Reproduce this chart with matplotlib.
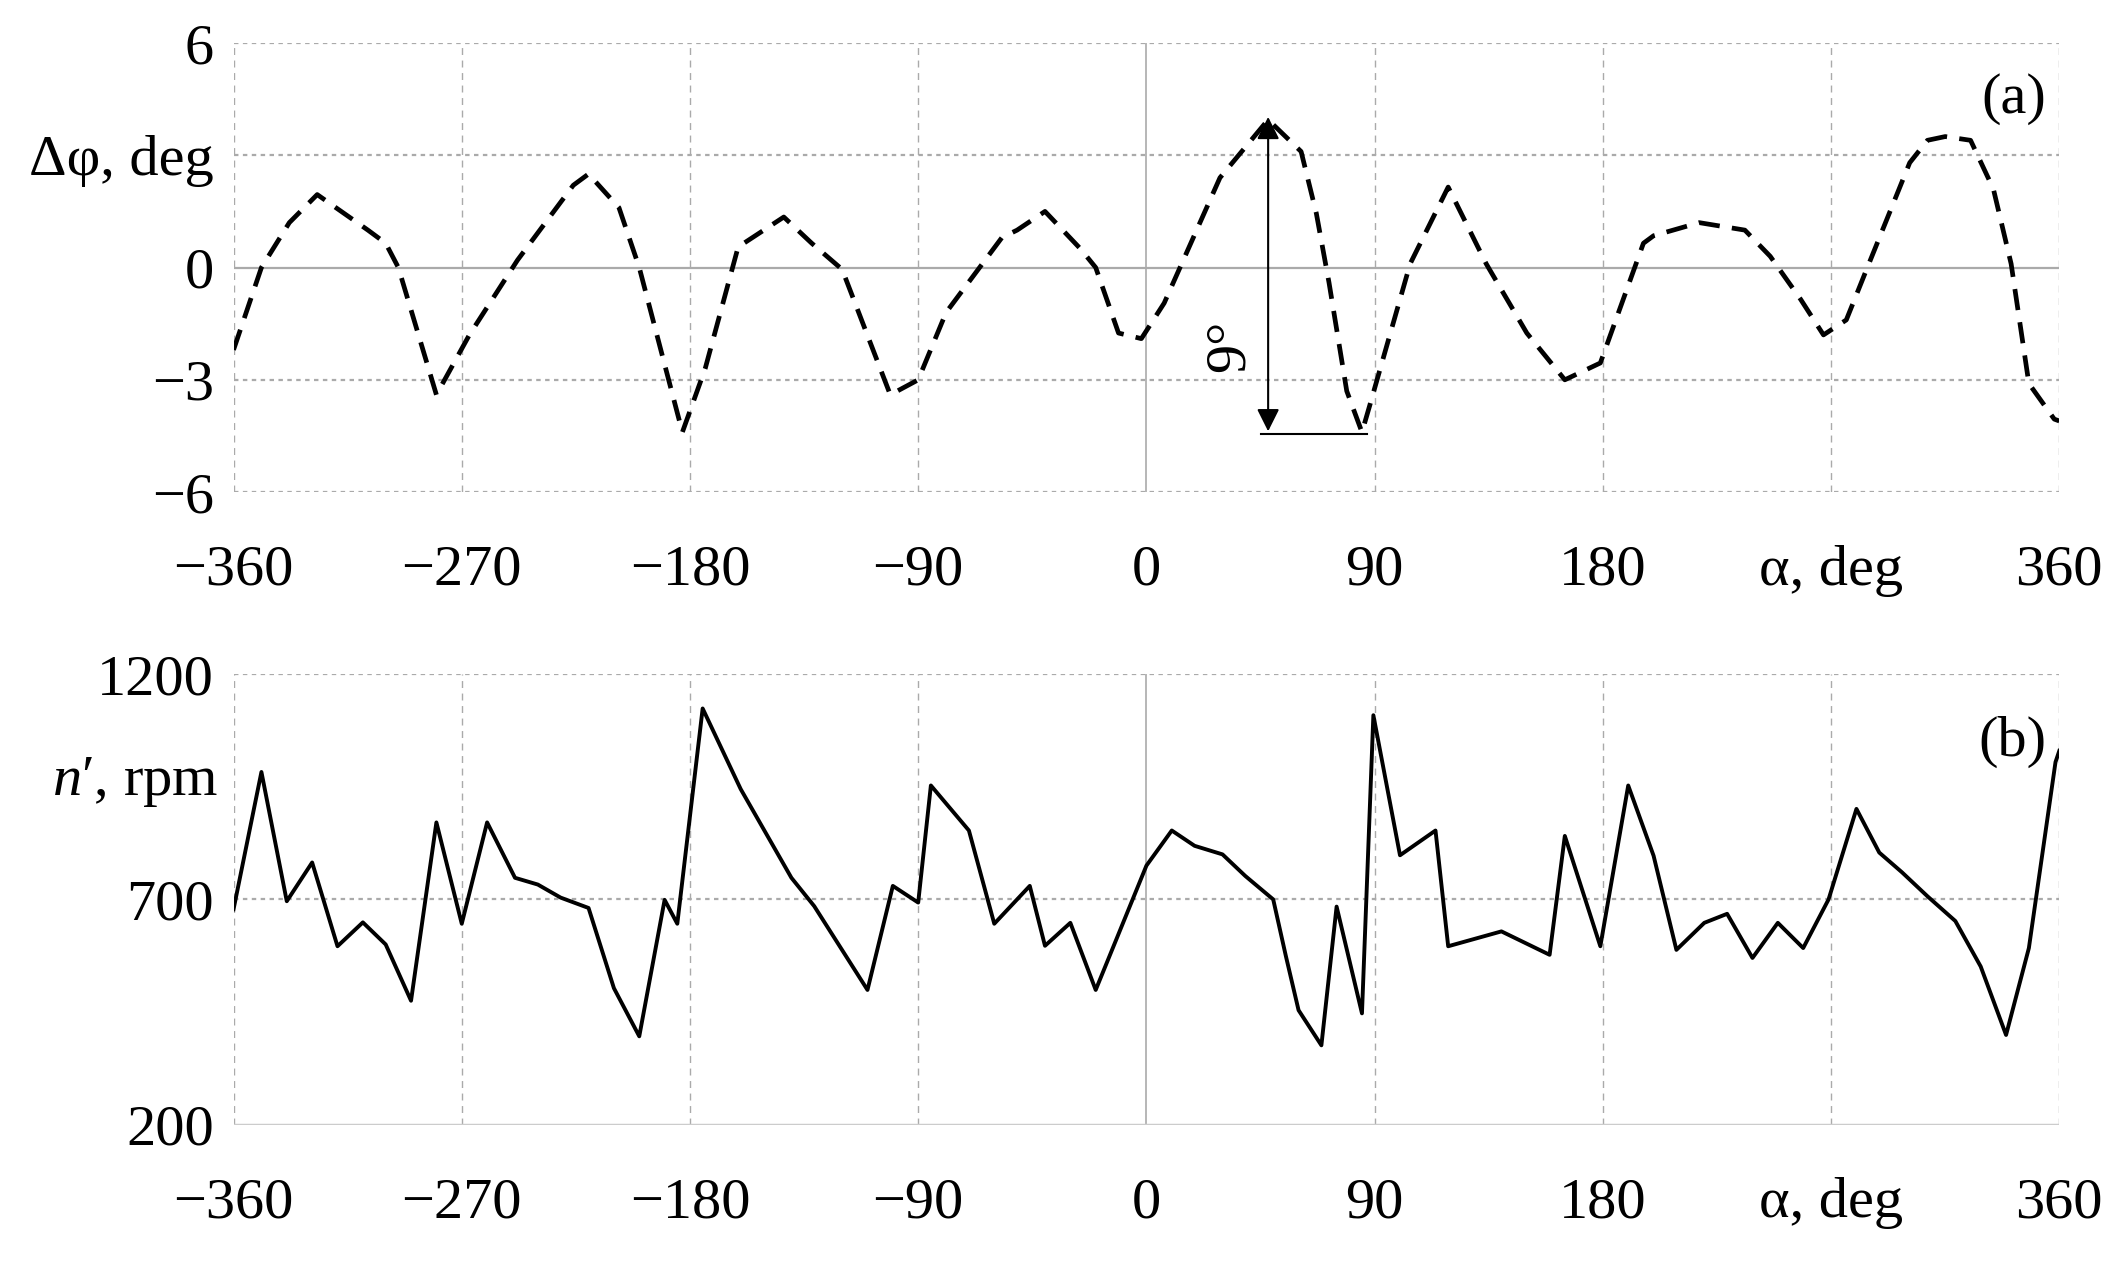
import numpy as np
import matplotlib
matplotlib.use("Agg")
import matplotlib.pyplot as plt

plt.rcParams["font.family"] = ["Liberation Serif", "DejaVu Serif"]
plt.rcParams["mathtext.fontset"] = "custom"
plt.rcParams["mathtext.it"] = "Liberation Serif:italic"
plt.rcParams["mathtext.rm"] = "Liberation Serif"

# ── Data ────────────────────────────────────────────────────────────────────
alpha_a = [-360, -349, -338, -327, -307, -300, -295, -280, -267, -248, -226, -220,
           -208, -200, -183, -174, -161, -143, -132, -120, -101, -90, -79, -57,
           -51, -40, -26, -20, -11, -2, 7, 29, 48, 61, 67, 72, 79, 85, 88, 104,
           119, 134, 150, 165, 179, 196, 200, 218, 236, 246, 258, 267, 276, 284,
           301, 308, 315, 325, 334, 341, 348, 358, 360]
dphi = [-2.2, 0.0, 1.2, 1.95, 1.0, 0.65, 0.0, -3.4, -1.8, 0.2, 2.2, 2.5,
        1.6, 0.0, -4.4, -2.7, 0.55, 1.35, 0.65, -0.05, -3.4, -3.0, -1.2, 0.8,
        1.0, 1.5, 0.5, 0.0, -1.75, -1.9, -0.95, 2.4, 3.95, 3.1, 1.45, -0.4, -3.3, -4.4, -3.7, 0.1,
        2.15, 0.1, -1.75, -3.0, -2.55, 0.65, 0.85, 1.2, 1.0, 0.3, -0.85, -1.8, -1.4, -0.05,
        2.8, 3.4, 3.5, 3.4, 2.1, 0.1, -3.1, -4.05, -4.1]

alpha_b = [-360, -349, -339, -329, -319, -309, -300, -290, -280, -270, -260, -249,
           -240, -231, -220, -210, -200, -190, -185, -175, -160, -140, -131, -110,
           -100, -90, -85, -70, -60, -46, -40, -30, -20, 0, 10, 19, 30, 39, 50,
           55, 60, 69, 75, 85, 89.5, 100, 114, 119, 140, 159, 165, 179, 190, 200,
           209, 220, 229, 239, 249, 259, 269, 280, 289, 298, 308, 319, 329, 339,
           348, 358.5, 360]
n_rpm = [678, 983, 696, 782, 596, 649, 600, 475, 871, 646, 871, 748,
         733, 704, 681, 503, 396, 699, 646, 1124, 945, 748, 685, 499,
         730, 693, 953, 853, 646, 730, 597, 648, 499, 775, 853, 819, 800, 752, 700,
         574, 454, 376, 684, 447, 1109, 798, 853, 596, 629, 577, 841, 596, 953, 797,
         588, 648, 668, 570, 648, 592, 700, 901, 804, 760, 707, 652, 551, 399,
         592, 1005, 1030]

x_ticks = [-360, -270, -180, -90, 0, 90, 180, 270, 360]
x_labels = ["\u2212360", "\u2212270", "\u2212180", "\u221290", "0", "90", "180",
            "\u03b1, deg", "360"]
ya_ticks = [6, 3, 0, -3, -6]
ya_labels = ["6", "\u0394\u03c6, deg", "0", "\u22123", "\u22126"]
yb_ticks = [1200, 700, 200]
yb_labels = ["1200", "700", "200"]

FS = 42
GRID = "#aaaaaa"

fig = plt.figure(figsize=(21.23, 12.65), dpi=100)
ax_a = fig.add_axes([0.110, 0.611, 0.860, 0.355])
ax_b = fig.add_axes([0.110, 0.111, 0.860, 0.356])


def style(ax, ylim, yticks, ylabels, hlines):
    ax.set_xlim(-360, 360)
    ax.set_ylim(*ylim)
    for sp in ax.spines.values():
        sp.set_visible(False)
    for x in x_ticks:
        if x == 0:
            ax.axvline(0, color=GRID, lw=1.2, zorder=1)
        else:
            ax.axvline(x, color=GRID, lw=1.0, ls=(0, (5, 4)), zorder=1)
    for y in hlines:
        ax.axhline(y, color=GRID, lw=1.6, ls=(0, (2, 2)), zorder=1)
    ax.set_xticks(x_ticks, x_labels)
    ax.set_yticks(yticks, ylabels)
    ax.tick_params(axis="x", length=0, labelsize=FS, pad=38)
    ax.tick_params(axis="y", length=0, labelsize=FS, pad=14)


# ── Panel (a) ───────────────────────────────────────────────────────────────
style(ax_a, (-6, 6), ya_ticks, ya_labels, [6, 3, -3, -6])
ax_a.axhline(0, color=GRID, lw=1.6, zorder=1)
ax_a.plot(alpha_a, dphi, color="black", lw=3.4, ls=(0, (4.5, 2.6)), zorder=3)
ax_a.annotate("", xy=(48, 4.1), xytext=(48, -4.45),
              arrowprops=dict(arrowstyle="<|-|>", color="black", lw=1.5,
                              mutation_scale=34), zorder=4)
ax_a.plot([45, 87], [-4.45, -4.45], color="black", lw=1.5, zorder=4)
ax_a.text(33, -2.1, "9\u00b0", rotation=90, fontsize=FS, ha="center", va="center")
ax_a.text(355, 4.5, "(a)", fontsize=FS, ha="right", va="center")

# ── Panel (b) ───────────────────────────────────────────────────────────────
style(ax_b, (200, 1200), yb_ticks, yb_labels, [1200, 700])
ax_b.axhline(200, color="#cccccc", lw=2.5, zorder=1)
ax_b.plot(alpha_b, n_rpm, color="black", lw=2.8, zorder=3)
ax_b.text(-366, 960, "$n$\u2032, rpm", fontsize=FS, ha="right", va="center")
ax_b.text(355, 1050, "(b)", fontsize=FS, ha="right", va="center")

fig.savefig("out.png", dpi=100)
